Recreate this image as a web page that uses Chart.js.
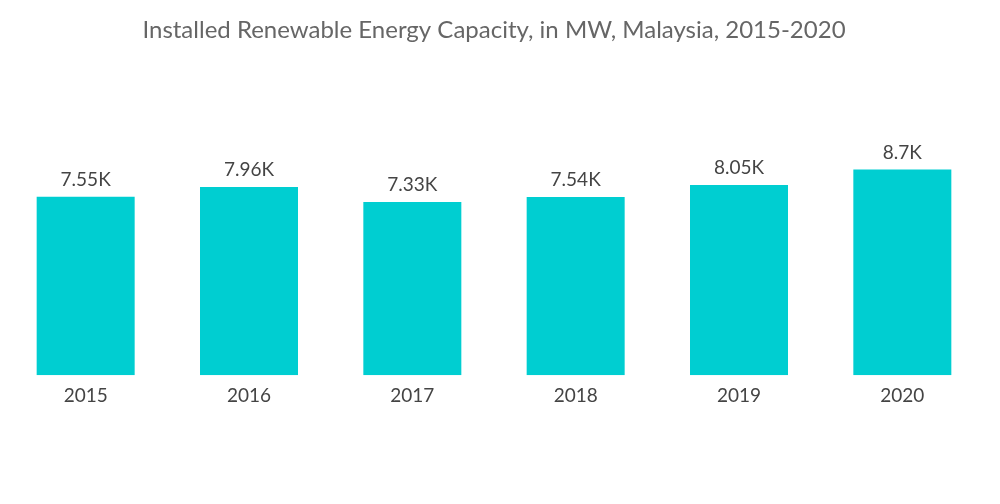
<!DOCTYPE html>
<html>
<head>
<meta charset="utf-8">
<script src="https://cdn.jsdelivr.net/npm/chart.js@4/dist/chart.umd.min.js"></script>
<style>
  html, body { margin: 0; padding: 0; background: #fff; }
  #wrap { width: 1000px; height: 504px; }
</style>
</head>
<body>
<div id="wrap"><canvas id="mainChart"></canvas></div>
<script>
const years = ['2015', '2016', '2017', '2018', '2019', '2020'];
const capacityMW = [7550, 7960, 7330, 7540, 8050, 8700];
const valueLabels = ['7.55K', '7.96K', '7.33K', '7.54K', '8.05K', '8.7K'];

// Draw the value above each bar
const barLabels = {
    id: 'barLabels',
    afterDatasetsDraw(chart) {
        const { ctx } = chart;
        const meta = chart.getDatasetMeta(0);
        ctx.save();
        ctx.font = '19px Lato';
        ctx.fillStyle = '#444';
        ctx.textAlign = 'center';
        ctx.textBaseline = 'middle';
        meta.data.forEach((bar, i) => {
            ctx.fillText(valueLabels[i], bar.x, bar.y - 17);
        });
        ctx.restore();
    }
};

const ctx = document.getElementById('mainChart').getContext('2d');
new Chart(ctx, {
    type: 'bar',
    data: {
        labels: years,
        datasets: [{
            data: capacityMW,
            backgroundColor: '#00ced1',
            categoryPercentage: 1,
            barPercentage: 0.6
        }]
    },
    options: {
        responsive: true,
        maintainAspectRatio: false,
        animation: false,
        layout: { padding: { left: 4, right: 16, top: 0, bottom: 88 } },
        plugins: {
            legend: { display: false },
            tooltip: { enabled: false },
            title: {
                display: true,
                text: 'Installed Renewable Energy Capacity, in MW, Malaysia, 2015-2020',
                color: '#666',
                font: { family: 'Lato', size: 24, weight: 'normal' },
                padding: { top: 16, bottom: 94 }
            }
        },
        scales: {
            x: {
                grid: { display: false, drawTicks: false },
                border: { display: false },
                ticks: { color: '#444', font: { family: 'Lato', size: 19 }, padding: 9 }
            },
            y: {
                display: false,
                min: 0,
                max: 10000
            }
        }
    },
    plugins: [barLabels]
});
</script>
</body>
</html>
